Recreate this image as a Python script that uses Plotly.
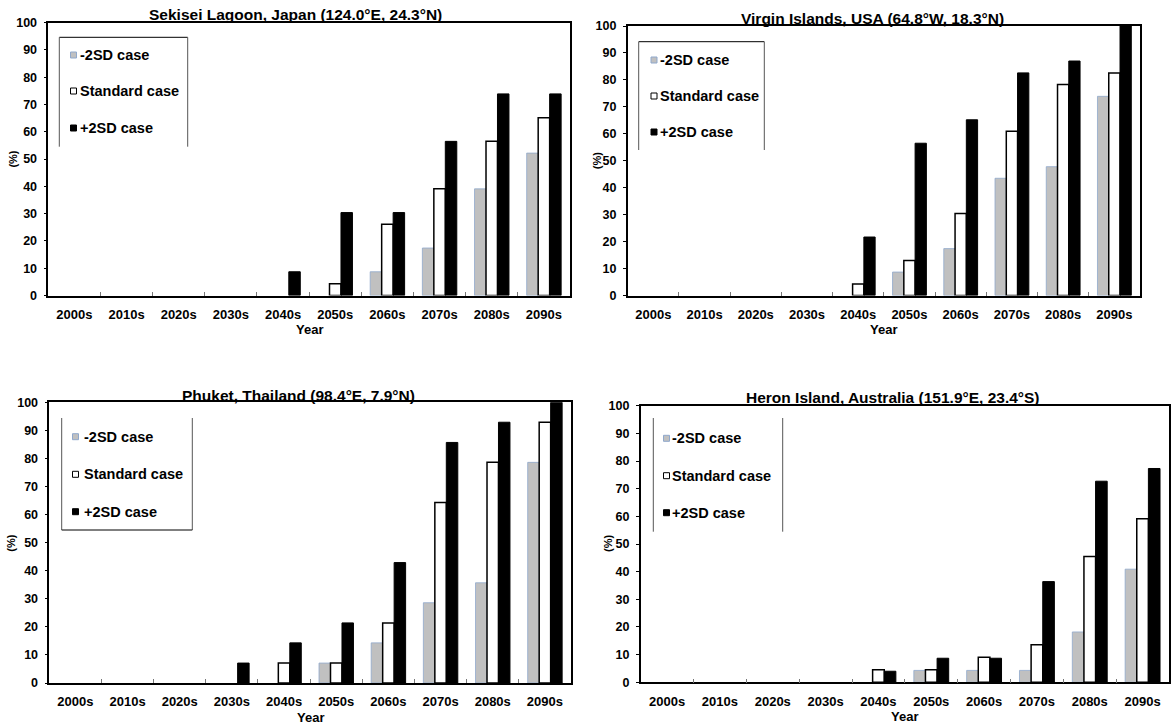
import plotly.graph_objects as go

# ---------------- data ----------------
categories = ['2000s', '2010s', '2020s', '2030s', '2040s', '2050s', '2060s', '2070s', '2080s', '2090s']
series_names = ['-2SD case', 'Standard case', '+2SD case']

sekisei_minus = [0, 0, 0, 0, 0, 0, 8.7, 17.4, 39.1, 52.2]
sekisei_std = [0, 0, 0, 0, 0, 4.3, 26.1, 39.1, 56.5, 65.2]
sekisei_plus = [0, 0, 0, 0, 8.7, 30.4, 30.4, 56.5, 73.9, 73.9]

virgin_minus = [0, 0, 0, 0, 0, 8.7, 17.4, 43.5, 47.8, 73.9]
virgin_std = [0, 0, 0, 0, 4.3, 13.0, 30.4, 60.9, 78.3, 82.6]
virgin_plus = [0, 0, 0, 0, 21.7, 56.5, 65.2, 82.6, 87.0, 100]

phuket_minus = [0, 0, 0, 0, 0, 7.1, 14.3, 28.6, 35.7, 78.6]
phuket_std = [0, 0, 0, 0, 7.1, 7.1, 21.4, 64.3, 78.6, 92.9]
phuket_plus = [0, 0, 0, 7.1, 14.3, 21.4, 42.9, 85.7, 92.9, 100]

heron_minus = [0, 0, 0, 0, 0, 4.3, 4.3, 4.3, 18.2, 40.9]
heron_std = [0, 0, 0, 0, 4.5, 4.5, 9.1, 13.6, 45.5, 59.1]
heron_plus = [0, 0, 0, 0, 4.0, 8.7, 8.7, 36.4, 72.7, 77.3]

titles = [
    'Sekisei Lagoon, Japan (124.0°E, 24.3°N)',
    'Virgin Islands, USA (64.8°W, 18.3°N)',
    'Phuket, Thailand (98.4°E, 7.9°N)',
    'Heron Island, Australia (151.9°E, 23.4°S)',
]
panel_data = [
    (sekisei_minus, sekisei_std, sekisei_plus),
    (virgin_minus, virgin_std, virgin_plus),
    (phuket_minus, phuket_std, phuket_plus),
    (heron_minus, heron_std, heron_plus),
]
y_ticks = list(range(0, 101, 10))

# ---------------- layout geometry (pixels) ----------------
W, H = 1171, 724
FONT = 'Liberation Sans, Arial, sans-serif'


def px(x):
    return x / W


def py(y):
    return 1 - y / H


# plot areas: left, right, top, bottom
panels = [
    dict(l=48.3, r=570.0, t=22.7, b=295.5, title_x=295, title_y=14, pct_x=13.5),
    dict(l=627.7, r=1140.0, t=26.0, b=295.5, title_x=872, title_y=19, pct_x=596.5),
    dict(l=49.3, r=571.0, t=402.3, b=683.0, title_x=298, title_y=395, pct_x=11),
    dict(l=640.7, r=1169.0, t=405.7, b=682.3, title_x=893, title_y=397, pct_x=608),
]

# legend geometry: box lines + entry rows
legends = [
    dict(left=59.3, right=187.7, top=37.3, bottom=146.7, sides=('top', 'left', 'right'),
         rows=[55, 91, 128], sw=73.5, tx=78),
    dict(left=638.7, right=764.3, top=41.7, bottom=150.0, sides=('top', 'left', 'right'),
         rows=[60, 96, 132], sw=654, tx=658),
    dict(left=61.7, right=192.3, top=418.0, bottom=530.0, sides=('left', 'right', 'bottom'),
         rows=[436.7, 474.3, 511.7], sw=75.5, tx=82),
    dict(left=653.3, right=782.7, top=418.0, bottom=531.7, sides=('left', 'right'),
         rows=[438.3, 475.7, 512.7], sw=666.5, tx=670),
]

styles = [
    dict(color='#C0C0C0', line_color='#8FA8CC', line_width=0.8),
    dict(color='#FFFFFF', line_color='#000000', line_width=1.5),
    dict(color='#000000', line_color='#000000', line_width=1),
]

fig = go.Figure()
layout = dict(
    width=W, height=H,
    margin=dict(l=0, r=0, t=0, b=0),
    paper_bgcolor='white', plot_bgcolor='white',
    barmode='group', bargap=0.34, bargroupgap=0,
    showlegend=False,
    annotations=[], shapes=[],
)

for i, (p, data) in enumerate(zip(panels, panel_data), start=1):
    xa = 'x' if i == 1 else f'x{i}'
    ya = 'y' if i == 1 else f'y{i}'
    for name, vals, st in zip(series_names, data, styles):
        widths = [st['line_width'] if v > 0 else 0 for v in vals]
        fig.add_trace(go.Bar(
            x=categories, y=vals, name=name, xaxis=xa, yaxis=ya,
            marker=dict(color=st['color'], line=dict(color=st['line_color'], width=widths)),
            showlegend=False,
        ))
    xkey = 'xaxis' if i == 1 else f'xaxis{i}'
    ykey = 'yaxis' if i == 1 else f'yaxis{i}'
    layout[xkey] = dict(
        domain=[px(p['l']), px(p['r'])], anchor=ya,
        type='category', categoryorder='array', categoryarray=categories,
        showline=True, linecolor='black', linewidth=1.5, mirror=True,
        ticks='inside', tickson='boundaries', ticklen=4, tickcolor='#777777', tickwidth=1,
        tickfont=dict(family=FONT, size=13, color='black', weight='bold'),
        ticklabelstandoff=6,
        showgrid=False, zeroline=False, automargin=False, fixedrange=True,
    )
    layout[ykey] = dict(
        domain=[py(p['b']), py(p['t'])], anchor=xa,
        range=[0, 100], tickvals=y_ticks, ticktext=[str(v) for v in y_ticks],
        showline=True, linecolor='black', linewidth=1.5, mirror=True,
        ticks='outside', ticklen=3, tickcolor='black', tickwidth=1,
        tickfont=dict(family=FONT, size=12.5, color='black', weight='bold'),
        ticklabelstandoff=4,
        showgrid=False, zeroline=False, automargin=False, fixedrange=True,
    )
    # title
    layout['annotations'].append(dict(
        text=titles[i - 1], xref='paper', yref='paper',
        x=px(p['title_x']), y=py(p['title_y']), xanchor='center', yanchor='middle',
        showarrow=False, font=dict(family=FONT, size=15.5, color='black', weight='bold'),
    ))
    # x axis title
    layout['annotations'].append(dict(
        text='Year', xref='paper', yref='paper',
        x=px((p['l'] + p['r']) / 2), y=py(p['b'] + 34), xanchor='center', yanchor='middle',
        showarrow=False, font=dict(family=FONT, size=13, color='black', weight='bold'),
    ))
    # y axis title
    layout['annotations'].append(dict(
        text='(%)', xref='paper', yref='paper', textangle=-90,
        x=px(p['pct_x']), y=py((p['t'] + p['b']) / 2), xanchor='center', yanchor='middle',
        showarrow=False, font=dict(family=FONT, size=11, color='black', weight='bold'),
    ))

# legends
for lg in legends:
    L, R, T, B = lg['left'], lg['right'], lg['top'], lg['bottom']
    seg = {
        'top': (L, T, R, T, '#000000'),
        'left': (L, T, L, B, '#555555'),
        'right': (R, T, R, B, '#555555'),
        'bottom': (L, B, R, B, '#000000'),
    }
    for s in lg['sides']:
        x0, y0, x1, y1, c = seg[s]
        layout['shapes'].append(dict(type='line', xref='paper', yref='paper',
                                     x0=px(x0), y0=py(y0), x1=px(x1), y1=py(y1),
                                     line=dict(color=c, width=1)))
    for name, yy, st in zip(series_names, lg['rows'], styles):
        half = 3
        layout['shapes'].append(dict(type='rect', xref='paper', yref='paper',
                                     x0=px(lg['sw'] - half), x1=px(lg['sw'] + half),
                                     y0=py(yy + half), y1=py(yy - half),
                                     fillcolor=st['color'],
                                     line=dict(color=st['line_color'], width=1)))
        layout['annotations'].append(dict(
            text=name, xref='paper', yref='paper',
            x=px(lg['tx']), y=py(yy), xanchor='left', yanchor='middle',
            showarrow=False, font=dict(family=FONT, size=14.5, color='black', weight='bold'),
        ))

fig.update_layout(**layout)
fig.write_html('out.html')
